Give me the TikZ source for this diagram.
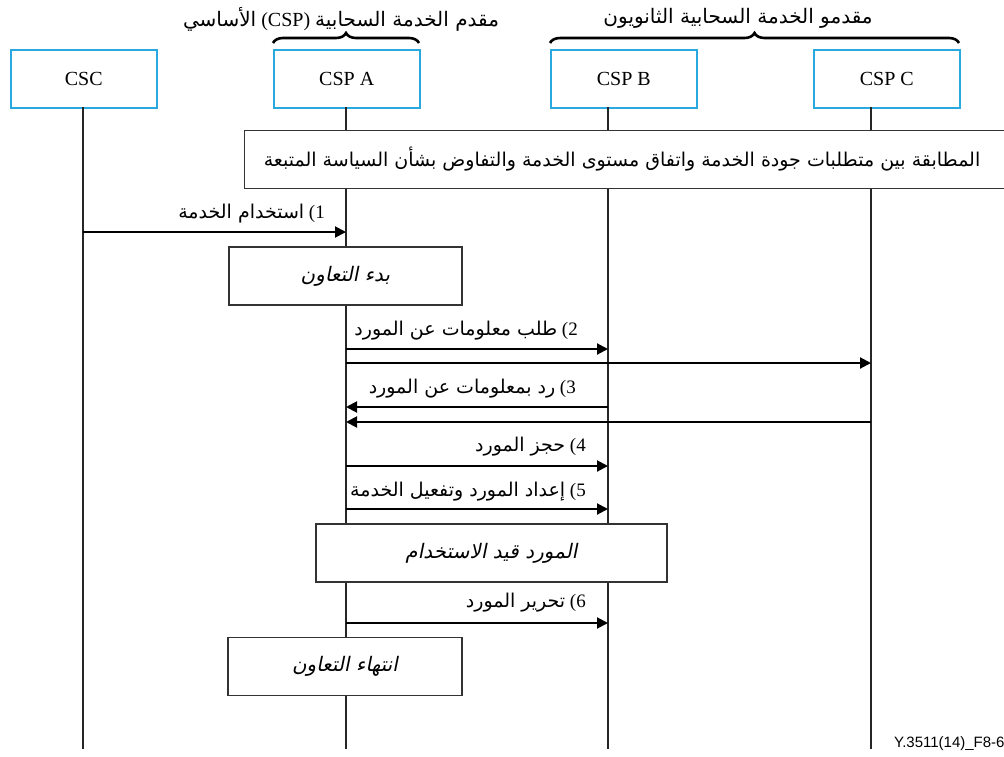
\documentclass[tikz,border=0pt]{standalone}
\usepackage{fontspec}
\setmainfont{Liberation Serif}
\newfontfamily\arabicfont[Script=Arabic]{DejaVu Sans}
\newfontfamily\arabicslant[Script=Arabic,FakeSlant=0.2]{DejaVu Sans}
\newfontfamily\footfont{Liberation Sans}
\TeXXeTstate=1
\usetikzlibrary{arrows.meta,decorations.pathreplacing}
\newcommand{\artx}[1]{{\arabicfont\beginR #1\endR}}
\newcommand{\arsl}[1]{{\arabicslant\beginR #1\endR}}
\definecolor{cyanbox}{HTML}{29A9E0}
\definecolor{boxgray}{HTML}{333333}
\begin{document}
\begin{tikzpicture}[x=1pt,y=-1pt,
  actor/.style={draw=cyanbox,line width=1.5pt,minimum width=146pt,minimum height=58pt,
    inner sep=0pt,anchor=north west,font=\fontsize{20}{23}\selectfont},
  phase/.style={draw=boxgray,line width=1.3pt,fill=white,inner sep=0pt,minimum height=58pt,
    font=\fontsize{20}{24}\selectfont},
  life/.style={line width=1.2pt,black!85},
  msg/.style={line width=2pt,-{Triangle[length=11pt,width=11pt]}},
  lbl/.style={anchor=east,inner sep=0pt,font=\fontsize{19}{22}\selectfont},
  head/.style={inner sep=0pt,font=\fontsize{20}{24}\selectfont},
  bracestyle/.style={decorate,decoration={brace,amplitude=10pt},line width=2.6pt}
]
\useasboundingbox (0,0) rectangle (1004,756);

% actors
\node[actor] (csc) at (10,49) {CSC};
\node[actor] (cspa) at (273,49) {CSP A};
\node[actor] (cspb) at (550,49) {CSP B};
\node[actor] (cspc) at (813,49) {CSP C};

% lifelines
\coordinate (lcscT) at (83,107);  \coordinate (lcscB) at (83,749);
\coordinate (laT) at (346,107);   \coordinate (laB) at (346,749);
\coordinate (lbT) at (608,107);   \coordinate (lbB) at (608,749);
\coordinate (lcT) at (871,107);   \coordinate (lcB) at (871,749);
\draw[life] (lcscT) -- (lcscB);
\draw[life] (laT) -- (laB);
\draw[life] (lbT) -- (lbB);
\draw[life] (lcT) -- (lcB);

% braces and headings
\coordinate (brAl) at (273,43); \coordinate (brAr) at (419,43);
\coordinate (brBl) at (550,43); \coordinate (brBr) at (959,43);
\draw[bracestyle] (brAl) -- (brAr);
\draw[bracestyle] (brBl) -- (brBr);
\node[head] (hA) at (341,19) {\artx{الأساسي} (CSP) \artx{مقدم الخدمة السحابية}};
\node[head] (hB) at (738,18) {\artx{مقدمو الخدمة السحابية الثانويون}};

% negotiation box
\node[phase,anchor=north west,minimum width=780pt] (neg) at (244,130) {};
\node[inner sep=0pt,font=\fontsize{19}{22}\selectfont] (negt) at (622,159)
  {\artx{المطابقة بين متطلبات جودة الخدمة واتفاق مستوى الخدمة والتفاوض بشأن السياسة المتبعة}};

% message 1
\coordinate (m1s) at (83,232); \coordinate (m1e) at (346,232);
\draw[msg] (m1s) -- (m1e);
\node[lbl] (l1) at (325,214) {\artx{استخدام الخدمة} (1};

% start cooperation
\node[phase,minimum width=233pt] (start) at (345.5,276) {\arsl{بدء التعاون}};

% message 2
\coordinate (m2s) at (346,349); \coordinate (m2e) at (608,349);
\draw[msg] (m2s) -- (m2e);
\coordinate (m2cs) at (346,363); \coordinate (m2ce) at (871,363);
\draw[msg] (m2cs) -- (m2ce);
\node[lbl] (l2) at (578,331) {\artx{طلب معلومات عن المورد} (2};

% message 3
\coordinate (m3s) at (608,407); \coordinate (m3e) at (346,407);
\draw[msg] (m3s) -- (m3e);
\coordinate (m3cs) at (871,422); \coordinate (m3ce) at (346,422);
\draw[msg] (m3cs) -- (m3ce);
\node[lbl] (l3) at (576,389) {\artx{رد بمعلومات عن المورد} (3};

% message 4
\coordinate (m4s) at (346,466); \coordinate (m4e) at (608,466);
\draw[msg] (m4s) -- (m4e);
\node[lbl] (l4) at (586,447) {\artx{حجز المورد} (4};

% message 5
\coordinate (m5s) at (346,509); \coordinate (m5e) at (608,509);
\draw[msg] (m5s) -- (m5e);
\node[lbl] (l5) at (586,492) {\artx{إعداد المورد وتفعيل الخدمة} (5};

% resource in use
\node[phase,minimum width=351pt] (inuse) at (491.5,553) {\arsl{المورد قيد الاستخدام}};

% message 6
\coordinate (m6s) at (346,623); \coordinate (m6e) at (608,623);
\draw[msg] (m6s) -- (m6e);
\node[lbl] (l6) at (586,603) {\artx{تحرير المورد} (6};

% end cooperation
\node[phase,minimum width=234pt] (endc) at (345,666.5) {\arsl{انتهاء التعاون}};

% footer
\node[anchor=west,inner sep=0pt,font=\footfont\fontsize{15}{17}\selectfont] (foot) at (894,744) {Y.3511(14)\_F8-6};
\end{tikzpicture}
\end{document}
